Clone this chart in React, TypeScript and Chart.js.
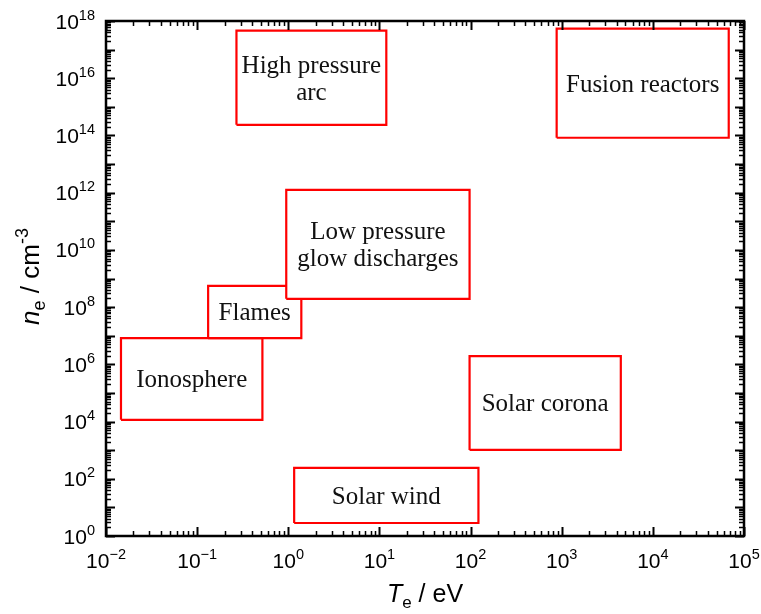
import React, { useEffect, useRef } from "react";
import { Chart, registerables } from "chart.js";

Chart.register(...registerables);

// Plasma regions: electron temperature Te (eV) and electron density ne (cm^-3)
const regionNames = [
  "Low pressure\nglow discharges",
  "Flames",
  "Ionosphere",
  "High pressure\narc",
  "Fusion reactors",
  "Solar corona",
  "Solar wind",
];
const teMin = [0.95, 0.132, 0.0146, 0.27, 880, 97.5, 1.16];
const teMax = [97.5, 1.39, 0.52, 11.9, 68000, 4450, 122];
const neMin = [1.95e8, 8.3e6, 1.15e4, 2.35e14, 8.3e13, 1.02e3, 2.85];
const neMax = [1.26e12, 5.5e8, 8.3e6, 4.6e17, 5.4e17, 1.95e6, 240];

// Axis ticks (exponents of ten)
const xMajorExponents = [-2, -1, 0, 1, 2, 3, 4, 5];
const xLabelExponents = [-2, -1, 0, 1, 2, 3, 4, 5];
const yMajorExponents = [0, 1, 2, 3, 4, 5, 6, 7, 8, 9, 10, 11, 12, 13, 14, 15, 16, 17, 18];
const yLabelExponents = [0, 2, 4, 6, 8, 10, 12, 14, 16, 18];
const minorMantissas = [2, 3, 4, 5, 6, 7, 8, 9];

const SANS = "'Liberation Sans', Arial, sans-serif";
const SERIF = "'Liberation Serif', 'Times New Roman', serif";

type Part = { text: string; font: string; dy: number };

function partsWidth(ctx: CanvasRenderingContext2D, parts: Part[]) {
  let w = 0;
  for (const p of parts) {
    ctx.font = p.font;
    w += ctx.measureText(p.text).width;
  }
  return w;
}

function drawParts(ctx: CanvasRenderingContext2D, parts: Part[], x: number, y: number) {
  let cx = x;
  for (const p of parts) {
    ctx.font = p.font;
    ctx.fillText(p.text, cx, y + p.dy);
    cx += ctx.measureText(p.text).width;
  }
}

function powParts(exp: number): Part[] {
  const e = exp < 0 ? "\u2212" + Math.abs(exp) : String(exp);
  return [
    { text: "10", font: `21px ${SANS}`, dy: 0 },
    { text: e, font: `14.5px ${SANS}`, dy: -9 },
  ];
}

const axesPlugin = {
  id: "axesPlugin",
  afterDatasetsDraw(chart: any) {
    const { ctx, scales } = chart;
    const xs = scales.x;
    const ys = scales.y;
    ctx.save();
    ctx.fillStyle = "#111";
    ctx.textAlign = "center";
    ctx.textBaseline = "alphabetic";
    ctx.font = `25px ${SERIF}`;
    const lineH = 27;
    for (let i = 0; i < regionNames.length; i++) {
      const x1 = xs.getPixelForValue(teMin[i]);
      const x2 = xs.getPixelForValue(teMax[i]);
      const y1 = ys.getPixelForValue(neMin[i]);
      const y2 = ys.getPixelForValue(neMax[i]);
      const cx = (x1 + x2) / 2;
      const cy = (y1 + y2) / 2;
      const lines = regionNames[i].split("\n");
      lines.forEach((ln, k) => {
        ctx.fillText(ln, cx, cy + 8.3 + (k - (lines.length - 1) / 2) * lineH);
      });
    }
    ctx.restore();
  },
  afterDraw(chart: any) {
    const { ctx, chartArea: a, scales } = chart;
    const xs = scales.x;
    const ys = scales.y;
    ctx.save();
    ctx.strokeStyle = "#000";
    ctx.lineCap = "butt";
    const majorLen = 9;
    const minorLen = 5;

    const xMinors: number[] = [];
    for (let i = 0; i < xMajorExponents.length - 1; i++) {
      for (const m of minorMantissas) xMinors.push(m * Math.pow(10, xMajorExponents[i]));
    }
    const yMinors: number[] = [];
    for (let i = 0; i < yMajorExponents.length - 1; i++) {
      for (const m of minorMantissas) yMinors.push(m * Math.pow(10, yMajorExponents[i]));
    }

    const vTick = (v: number, len: number, lw: number) => {
      const px = Math.round(xs.getPixelForValue(v)) + 0.5;
      ctx.lineWidth = lw;
      ctx.beginPath();
      ctx.moveTo(px, a.bottom);
      ctx.lineTo(px, a.bottom - len);
      ctx.moveTo(px, a.top);
      ctx.lineTo(px, a.top + len);
      ctx.stroke();
    };
    const hTick = (v: number, len: number, lw: number) => {
      const py = Math.round(ys.getPixelForValue(v)) + 0.5;
      ctx.lineWidth = lw;
      ctx.beginPath();
      ctx.moveTo(a.left, py);
      ctx.lineTo(a.left + len, py);
      ctx.moveTo(a.right, py);
      ctx.lineTo(a.right - len, py);
      ctx.stroke();
    };
    xMinors.forEach((v) => vTick(v, minorLen, 1.5));
    xMajorExponents.forEach((e) => vTick(Math.pow(10, e), majorLen, 2));
    yMinors.forEach((v) => hTick(v, minorLen, 1.5));
    yMajorExponents.forEach((e) => hTick(Math.pow(10, e), majorLen, 2));

    // frame
    ctx.lineWidth = 2.5;
    ctx.strokeRect(a.left, a.top, a.right - a.left, a.bottom - a.top);

    // tick labels
    ctx.fillStyle = "#000";
    ctx.textAlign = "left";
    ctx.textBaseline = "alphabetic";
    xLabelExponents.forEach((e) => {
      const parts = powParts(e);
      const w = partsWidth(ctx, parts);
      const px = xs.getPixelForValue(Math.pow(10, e));
      drawParts(ctx, parts, px - w / 2, a.bottom + 32);
    });
    yLabelExponents.forEach((e) => {
      const parts = powParts(e);
      const w = partsWidth(ctx, parts);
      const py = ys.getPixelForValue(Math.pow(10, e));
      drawParts(ctx, parts, a.left - 11 - w, py + 7.5);
    });

    // axis titles
    const xTitle: Part[] = [
      { text: "T", font: `italic 25px ${SANS}`, dy: 0 },
      { text: "e", font: `17px ${SANS}`, dy: 6 },
      { text: " / eV", font: `25px ${SANS}`, dy: 0 },
    ];
    const xw = partsWidth(ctx, xTitle);
    drawParts(ctx, xTitle, (a.left + a.right) / 2 - xw / 2, 602);

    const yTitle: Part[] = [
      { text: "n", font: `italic 26px ${SANS}`, dy: 0 },
      { text: "e", font: `18px ${SANS}`, dy: 6 },
      { text: " / cm", font: `26px ${SANS}`, dy: 0 },
      { text: "-3", font: `18px ${SANS}`, dy: -11 },
    ];
    const yw = partsWidth(ctx, yTitle);
    ctx.save();
    ctx.translate(39, (a.top + a.bottom) / 2 - 2);
    ctx.rotate(-Math.PI / 2);
    drawParts(ctx, yTitle, -yw / 2, 0);
    ctx.restore();

    ctx.restore();
  },
};

export default function App() {
  const canvasRef = useRef<HTMLCanvasElement | null>(null);

  useEffect(() => {
    const canvas = canvasRef.current;
    if (!canvas) return;
    const datasets = regionNames.map((name, i) => ({
      label: name,
      data: [
        { x: teMin[i], y: neMin[i] },
        { x: teMax[i], y: neMin[i] },
        { x: teMax[i], y: neMax[i] },
        { x: teMin[i], y: neMax[i] },
        { x: teMin[i], y: neMin[i] },
      ],
      showLine: true,
      borderColor: "#ff0000",
      borderWidth: 2.2,
      backgroundColor: "#ffffff",
      fill: "shape",
      pointRadius: 0,
      pointHoverRadius: 0,
      tension: 0,
      borderJoinStyle: "miter" as const,
    }));

    const chart = new Chart(canvas, {
      type: "scatter",
      data: { datasets },
      options: {
        animation: false,
        responsive: true,
        maintainAspectRatio: false,
        events: [],
        layout: { padding: { left: 106, right: 17, top: 21, bottom: 78 } },
        plugins: {
          legend: { display: false },
          tooltip: { enabled: false },
          title: { display: false },
        },
        scales: {
          x: { type: "logarithmic", min: 1e-2, max: 1e5, display: false },
          y: { type: "logarithmic", min: 1, max: 1e18, display: false },
        },
      },
      plugins: [axesPlugin],
    });
    return () => chart.destroy();
  }, []);

  return (
    <div style={{ position: "fixed", left: 0, top: 0, width: 761, height: 614, background: "#fff" }}>
      <canvas ref={canvasRef} />
    </div>
  );
}
